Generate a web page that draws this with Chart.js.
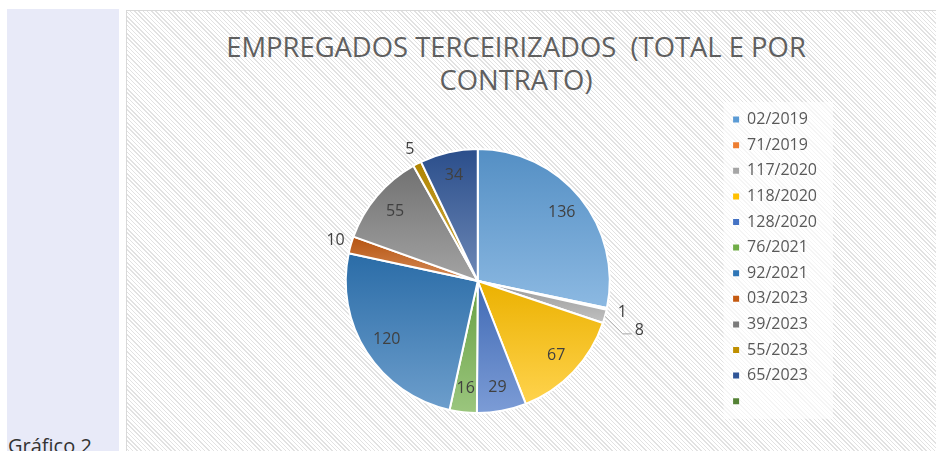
<!DOCTYPE html>
<html>
<head>
<meta charset="utf-8">
<script src="https://cdn.jsdelivr.net/npm/chart.js@4.4.1/dist/chart.umd.min.js"></script>
<style>
  html, body { margin: 0; padding: 0; width: 936px; height: 451px; overflow: hidden; background: #fff; position: relative; font-family: "Open Sans", sans-serif; }
  #side { position: absolute; left: 7px; top: 9px; width: 112px; height: 442px; background: #e8eaf8; }
  #caption { position: absolute; left: 8px; top: 432px; font-size: 20px; line-height: 28px; color: #333; white-space: nowrap; }
  #panel { position: absolute; left: 126px; top: 10px; width: 820px; height: 460px; border: 1px solid #d9d9d9;
    background: repeating-linear-gradient(45deg, #e2e2e2 0, #e2e2e2 1px, #fff 1px, #fff 3px); }
  #title { position: absolute; left: 126px; top: 30px; width: 780px; text-align: center; font-size: 27.4px; line-height: 33px; color: #5f5f5f; white-space: pre; }
  #chart { position: absolute; left: 126px; top: 10px; }
</style>
</head>
<body>
<div id="side"></div>
<div id="caption">Gráfico 2</div>
<div id="panel"></div>
<div id="title">EMPREGADOS TERCEIRIZADOS  (TOTAL E POR
CONTRATO)</div>
<canvas id="chart" width="810" height="450"></canvas>
<script>
// Contratos e quantidade de empregados
const contratos = ["02/2019", "71/2019", "117/2020", "118/2020", "128/2020", "76/2021",
  "92/2021", "03/2023", "39/2023", "55/2023", "65/2023", ""];
const valores = [136, 1, 8, 67, 29, 16, 120, 10, 55, 5, 34, 0];
const cores = ["#5B9BD5", "#ED7D31", "#A5A5A5", "#FFC000", "#4472C4", "#70AD47",
  "#2E75B6", "#C55A11", "#7B7B7B", "#BF8F00", "#2F5597", "#548235"];

const RAIO = 132;
const total = valores.reduce((a, b) => a + b, 0);

function mix(hex, alvo, t) {
  const n = parseInt(hex.slice(1), 16);
  const c = [(n >> 16) & 255, (n >> 8) & 255, n & 255].map(v => Math.round(v + (alvo - v) * t));
  return `rgb(${c[0]},${c[1]},${c[2]})`;
}

// vertical extent of a slice, from the data
function extensao(i, cy) {
  let acc = 0;
  for (let k = 0; k < i; k++) acc += valores[k];
  const a0 = acc / total * 2 * Math.PI - Math.PI / 2;
  const a1 = (acc + valores[i]) / total * 2 * Math.PI - Math.PI / 2;
  const ys = [cy, cy + Math.sin(a0) * RAIO, cy + Math.sin(a1) * RAIO];
  if (a0 <= -Math.PI / 2 + 1e-9) ys.push(cy - RAIO);
  if (a0 < Math.PI / 2 && a1 > Math.PI / 2) ys.push(cy + RAIO);
  if (a1 > 1.5 * Math.PI) ys.push(cy - RAIO);
  return [Math.min(...ys), Math.max(...ys)];
}

function gradiente(context) {
  const chart = context.chart;
  const i = context.dataIndex;
  const area = chart.chartArea;
  if (!area || valores[i] === undefined) return cores[i];
  const cy = (area.top + area.bottom) / 2;
  const [y0, y1] = extensao(i, cy);
  const g = chart.ctx.createLinearGradient(0, y0, 0, Math.max(y1, y0 + 1));
  g.addColorStop(0, mix(cores[i], 0, 0.08));
  g.addColorStop(1, mix(cores[i], 255, 0.3));
  return g;
}

const fundoLegenda = {
  id: "fundoLegenda",
  beforeDraw(chart) {
    const lg = chart.legend;
    const pad = lg.options.labels.padding;
    const h = lg.legendItems.length * (16 + pad) + pad;
    chart.ctx.save();
    chart.ctx.fillStyle = "rgba(255,255,255,0.65)";
    chart.ctx.fillRect(lg.left, lg.top, lg.width + 6, h);
    chart.ctx.restore();
  }
};

const rotulos = {
  id: "rotulos",
  afterDatasetsDraw(chart) {
    const ctx = chart.ctx;
    const meta = chart.getDatasetMeta(0);
    ctx.save();
    ctx.font = '16px "Open Sans"';
    ctx.fillStyle = "#404040";
    ctx.textAlign = "center";
    ctx.textBaseline = "middle";
    const feitos = [];
    meta.data.forEach((arc, i) => {
      const v = valores[i];
      if (!v) return;
      const p = arc.getProps(["x", "y", "startAngle", "endAngle", "outerRadius"], true);
      const meio = (p.startAngle + p.endAngle) / 2;
      const pequeno = v / total < 0.03;
      const txt = String(v);
      const w = ctx.measureText(txt).width;
      let r = pequeno ? p.outerRadius * 1.12 : p.outerRadius * 0.82;
      let lx = p.x + Math.cos(meio) * r;
      let ly = p.y + Math.sin(meio) * r;
      const bate = feitos.some(f => Math.abs(f.x - lx) < (f.w + w) / 2 + 2 && Math.abs(f.y - ly) < 18);
      if (pequeno && bate) {
        r = p.outerRadius * 1.27;
        lx = p.x + Math.cos(meio) * r;
        ly = p.y + Math.sin(meio) * r + 5;
        const ex = p.x + Math.cos(meio) * p.outerRadius;
        const ey = p.y + Math.sin(meio) * p.outerRadius;
        ctx.save();
        ctx.strokeStyle = "#a6a6a6";
        ctx.lineWidth = 1;
        ctx.beginPath();
        ctx.moveTo(ex, ey);
        ctx.lineTo(lx - w / 2 - 12, ly + 3);
        ctx.lineTo(lx - w / 2 - 3, ly + 3);
        ctx.stroke();
        ctx.restore();
      }
      ctx.fillText(txt, lx, ly);
      feitos.push({ x: lx, y: ly, w });
    });
    ctx.restore();
  }
};

new Chart(document.getElementById("chart"), {
  type: "pie",
  data: {
    labels: contratos,
    datasets: [{
      data: valores,
      backgroundColor: gradiente,
      borderColor: "#ffffff",
      borderWidth: 2
    }]
  },
  options: {
    responsive: false,
    animation: false,
    devicePixelRatio: 1,
    radius: RAIO,
    layout: { padding: { top: 92, left: 106, right: 109, bottom: 0 } },
    plugins: {
      tooltip: { enabled: false },
      title: { display: false },
      legend: {
        position: "right",
        align: "start",
        fullSize: false,
        labels: {
          boxWidth: 6,
          boxHeight: 6,
          padding: 9.6,
          color: "#595959",
          font: { family: "Open Sans", size: 16 },
          generateLabels: () => contratos.map((c, i) => ({
            text: c, fillStyle: cores[i], strokeStyle: cores[i], lineWidth: 0,
            hidden: false, index: i, datasetIndex: 0, fontColor: "#595959"
          }))
        }
      }
    }
  },
  plugins: [fundoLegenda, rotulos]
});
</script>
</body>
</html>
